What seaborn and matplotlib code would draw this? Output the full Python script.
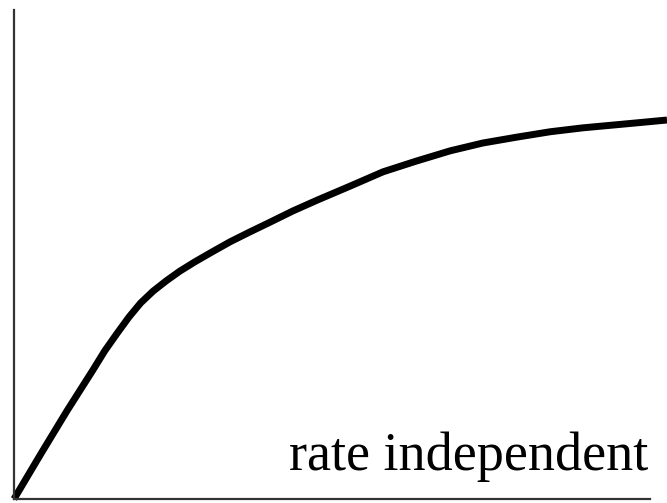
import matplotlib
matplotlib.use("Agg")
import matplotlib.pyplot as plt
import pandas as pd
import seaborn as sns

# Curve (arbitrary units, axes span 0-10 on both sides)
strain = [0.0, 0.41, 0.81, 1.21, 1.39, 1.58, 1.76, 1.94, 2.13, 2.33,
          2.54, 2.77, 3.03, 3.31, 3.61, 3.92, 4.27, 4.64, 5.15, 5.65,
          6.16, 6.68, 7.18, 7.70, 8.21, 8.71, 9.36, 10.0]
stress = [0.0, 0.92, 1.80, 2.64, 3.03, 3.39, 3.72, 4.01, 4.25, 4.46,
          4.66, 4.85, 5.05, 5.26, 5.46, 5.66, 5.89, 6.11, 6.40, 6.69,
          6.91, 7.12, 7.28, 7.40, 7.51, 7.59, 7.67, 7.75]
label = "rate independent"

frame = pd.DataFrame({"strain": strain, "stress": stress})

sns.set_style("white")
plt.rcParams["font.family"] = ["Liberation Serif", "DejaVu Serif"]

fig = plt.figure(figsize=(6.67, 5.03), dpi=100)
ax = fig.add_axes([14 / 667, 1 - 499 / 503, 653 / 667, 489 / 503])

sns.lineplot(data=frame, x="strain", y="stress", ax=ax, color="black",
             linewidth=5, sort=False, solid_capstyle="butt",
             solid_joinstyle="round", clip_on=False)

ax.set_xlim(0, 10)
ax.set_ylim(0, 10)
ax.set_xticks([])
ax.set_yticks([])
ax.set_xlabel("")
ax.set_ylabel("")
sns.despine(ax=ax)
for side in ["left", "bottom"]:
    ax.spines[side].set_linewidth(1.6)
    ax.spines[side].set_color("#333333")
ax.spines["bottom"].set_bounds(0, 9.74)

ax.text(9.71, 0.59, label, ha="right", va="baseline", fontsize=39, color="black")

fig.savefig("out.png", dpi=100)
